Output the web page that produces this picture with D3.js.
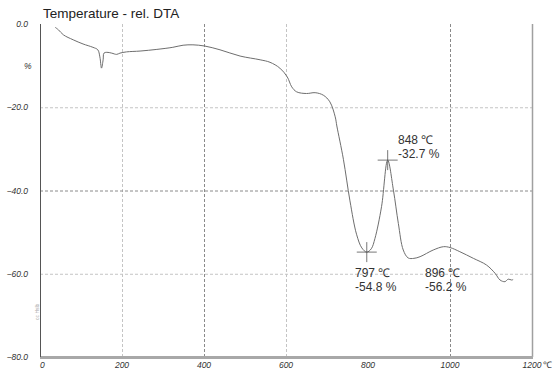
<!DOCTYPE html>
<html>
<head>
<meta charset="utf-8">
<script src="https://cdn.jsdelivr.net/npm/d3@7"></script>
<style>
  body { margin: 0; background: #fff; }
  svg { font-family: "Liberation Sans", Arial, sans-serif; }
</style>
</head>
<body>
<svg id="chart" width="553" height="369"></svg>
<script>
"use strict";

// curve: temperature (°C) and rel. DTA (%)
const temps = [37, 45, 57, 81, 105, 129, 141, 146, 150, 154, 156, 163, 175, 187, 195, 211, 244, 285,
  324, 349, 373, 402, 439, 488, 537, 561, 585, 603, 614, 626, 650, 671, 691, 707, 720, 724, 740, 756,
  772, 785, 797, 808, 817, 833, 848, 862, 874, 886, 898, 912, 927, 959, 984, 1000, 1024, 1057, 1089,
  1110, 1122, 1134, 1142, 1150, 1154];
const values = [-0.8, -1.4, -2.6, -3.8, -4.8, -5.6, -6.2, -7.9, -10.6, -8.6, -7.0, -6.8, -7.0, -7.3,
  -7.0, -6.7, -6.5, -6.1, -5.6, -5.1, -5.0, -5.3, -6.2, -7.7, -8.6, -9.2, -10.6, -12.7, -15.1, -16.3,
  -16.7, -16.5, -17.1, -18.7, -22.3, -24.5, -32.5, -42.5, -50.5, -53.8, -54.8, -54.0, -51.5, -43.9,
  -32.7, -39.9, -47.9, -54.3, -56.2, -56.3, -55.9, -54.3, -53.5, -53.7, -54.7, -56.3, -57.9, -59.9,
  -61.5, -61.9, -61.3, -61.5, -61.4];

// axes
const xTicks = [0, 200, 400, 600, 800, 1000, 1200];
const yTicks = [0, -20, -40, -60, -80];
const xGrid = [200, 400, 600, 1000];
const xGridDark = [400, 1000];
const yGrid = [-20, -40, -60];
const yGridDark = [-40];

// marked points
const markT = [797, 848];
const markV = [-54.8, -32.7];
const labelT = [797, 848, 896];
const labelV = [-54.8, -32.7, -56.2];

const svg = d3.select("#chart");
const x = d3.scaleLinear().domain([0, 1200]).range([40, 532]);
const y = d3.scaleLinear().domain([0, -80]).range([24, 357]);

// grid
svg.selectAll(".gx").data(xGrid).enter().append("line")
  .attr("x1", d => x(d) + 0.5).attr("x2", d => x(d) + 0.5)
  .attr("y1", y(0)).attr("y2", y(-80))
  .attr("stroke", d => xGridDark.includes(d) ? "#8a8a8a" : "#c4c4c4")
  .attr("stroke-dasharray", "3,2");

svg.selectAll(".gy").data(yGrid).enter().append("line")
  .attr("x1", x(0)).attr("x2", x(1200))
  .attr("y1", d => y(d) + 0.5).attr("y2", d => y(d) + 0.5)
  .attr("stroke", d => yGridDark.includes(d) ? "#8a8a8a" : "#c4c4c4")
  .attr("stroke-dasharray", "3,2");

// frame
svg.append("line").attr("x1", x(1200) + 0.5).attr("x2", x(1200) + 0.5)
  .attr("y1", y(0)).attr("y2", y(-80)).attr("stroke", "#a0a0a0").attr("stroke-width", 1.5);
svg.append("line").attr("x1", x(0)).attr("x2", x(1200) + 1)
  .attr("y1", y(-80) + 0.5).attr("y2", y(-80) + 0.5).attr("stroke", "#a8a8a8").attr("stroke-width", 3);
svg.append("line").attr("x1", x(0) + 0.5).attr("x2", x(0) + 0.5)
  .attr("y1", y(0)).attr("y2", y(-80)).attr("stroke", "#555").attr("stroke-width", 1);

// tick labels
svg.selectAll(".yt").data(yTicks).enter().append("text")
  .attr("x", 28).attr("y", d => y(d) + 3)
  .attr("text-anchor", "end").attr("font-size", 8.5).attr("font-style", "italic").attr("fill", "#333")
  .text(d => d3.format(".1f")(d));

svg.selectAll(".xt").data(xTicks).enter().append("text")
  .attr("x", d => x(d)).attr("y", 368)
  .attr("text-anchor", d => d === 0 ? "start" : "middle")
  .attr("font-size", 8.5).attr("font-style", "italic").attr("fill", "#333")
  .text(d => d);

svg.append("text").attr("x", 543).attr("y", 368).attr("font-size", 9).attr("fill", "#333").text("℃");
svg.append("text").attr("x", 24).attr("y", 69).attr("font-size", 8.5).attr("font-style", "italic")
  .attr("fill", "#333").text("%");

svg.append("text").attr("transform", "translate(39,320) rotate(-90)")
  .attr("font-size", 5).attr("fill", "#aaa").text("cc Hslb");

// title
svg.append("text").attr("x", 43).attr("y", 18).attr("font-size", 13.5).attr("fill", "#222")
  .text("Temperature - rel. DTA");

// curve
const line = d3.line().x((d, i) => x(temps[i])).y(d => y(d)).curve(d3.curveCatmullRom);
svg.append("path").datum(values).attr("d", line)
  .attr("fill", "none").attr("stroke", "#6e6e6e").attr("stroke-width", 1);

// cross markers
markT.forEach((t, i) => {
  const cx = x(t), cy = y(markV[i]);
  svg.append("line").attr("x1", cx - 10).attr("x2", cx + 10).attr("y1", cy).attr("y2", cy)
    .attr("stroke", "#555").attr("stroke-width", 0.8);
  svg.append("line").attr("x1", cx).attr("x2", cx).attr("y1", cy - 10).attr("y2", cy + 10)
    .attr("stroke", "#555").attr("stroke-width", 0.8);
});

// annotations
const labelPos = [[355, 277], [398, 144], [425, 277]];
labelT.forEach((t, i) => {
  const g = svg.append("text").attr("font-size", 12).attr("fill", "#333");
  g.append("tspan").attr("x", labelPos[i][0]).attr("y", labelPos[i][1]).text(t + " ℃");
  g.append("tspan").attr("x", labelPos[i][0]).attr("y", labelPos[i][1] + 14).text(labelV[i] + " %");
});
</script>
</body>
</html>
